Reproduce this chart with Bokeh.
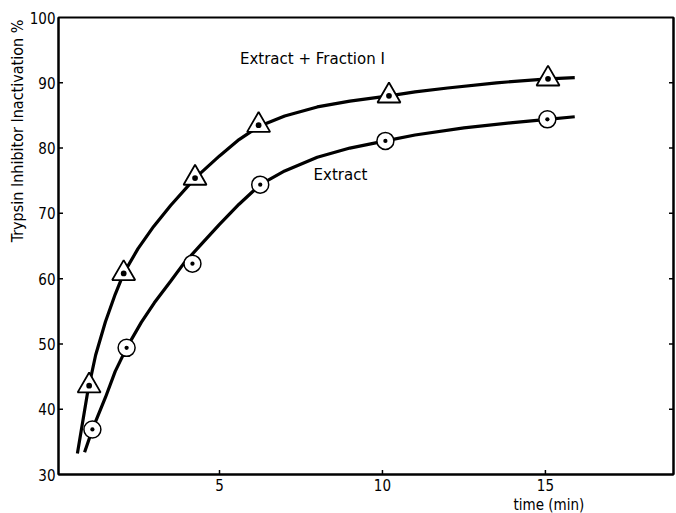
import math
from bokeh.plotting import figure
from bokeh.models import Range1d, LinearAxis, FixedTicker, Title
from bokeh.embed import file_html
from bokeh.resources import INLINE

# measured points
t_ext_frac = [1.0, 2.06, 4.25, 6.2, 10.2, 15.08]
v_ext_frac = [43.6, 60.8, 75.4, 83.5, 88.0, 90.6]
t_ext = [1.1, 2.15, 4.17, 6.25, 10.09, 15.06]
v_ext = [36.9, 49.4, 62.3, 74.4, 81.1, 84.4]

# hand-drawn fitted curves
ct_ext_frac = [0.64, 0.95, 1.2, 1.5, 1.8, 2.06, 2.5, 2.98, 3.5, 4.25, 5.0, 5.6, 6.2, 7.0, 8.0, 9.0, 10.2, 11.0, 12.0, 13.5, 15.08, 15.9]
cv_ext_frac = [33.2, 42.5, 48.3, 53.4, 57.6, 60.8, 64.6, 68.0, 71.2, 75.4, 78.8, 81.3, 83.3, 84.9, 86.3, 87.2, 88.0, 88.6, 89.2, 90.0, 90.6, 90.8]
ct_ext = [0.86, 1.1, 1.5, 1.8, 2.15, 2.6, 3.0, 3.5, 3.9, 4.5, 5.0, 5.6, 6.25, 7.0, 8.0, 9.0, 10.09, 11.0, 12.5, 14.0, 15.06, 15.9]
cv_ext = [33.4, 36.9, 41.8, 45.8, 49.4, 53.3, 56.3, 59.6, 62.3, 65.6, 68.3, 71.4, 74.4, 76.5, 78.6, 80.0, 81.1, 82.0, 83.1, 83.9, 84.4, 84.8]

x_ticks = [5, 10, 15]
y_ticks = [30, 40, 50, 60, 70, 80, 90, 100]
X0, X1 = 0.06, 18.93
Y0, Y1 = 30, 100

FONT = "DejaVu Sans Condensed"

p = figure(width=676, height=513, output_backend="svg", toolbar_location=None,
           x_range=Range1d(X0, X1), y_range=Range1d(Y0, Y1),
           min_border_left=58, min_border_right=3, min_border_top=17, min_border_bottom=39)
p.grid.visible = False
p.outline_line_color = "black"
p.outline_line_width = 2
p.background_fill_color = "white"

for ax in [p.xaxis[0], p.yaxis[0]]:
    ax.axis_line_width = 2
    ax.axis_line_color = "black"
    ax.major_tick_in = 0
    ax.major_tick_out = 0
    ax.minor_tick_line_color = None
    ax.major_label_text_font = FONT
    ax.major_label_text_font_size = "15px"
    ax.major_label_text_color = "black"

p.xaxis[0].ticker = FixedTicker(ticks=x_ticks)
p.xaxis[0].major_label_standoff = 4
p.yaxis[0].ticker = FixedTicker(ticks=y_ticks)
p.yaxis[0].major_label_standoff = 3

rax = LinearAxis(ticker=FixedTicker(ticks=y_ticks), major_tick_in=0, major_tick_out=0,
                 minor_tick_line_color=None,
                 major_label_text_font_size="0px", major_label_standoff=0,
                 axis_line_width=2)
p.add_layout(rax, "right")

# inward tick marks (half of each dash is clipped away by the frame)
inner_y = y_ticks[1:-1]
p.scatter([X0] * len(inner_y), inner_y, marker="dash", size=9, line_color="black", line_width=1.5)
p.scatter([X1] * len(inner_y), inner_y, marker="dash", size=9, line_color="black", line_width=1.5)
p.scatter(x_ticks, [Y0] * len(x_ticks), marker="dash", angle=math.pi / 2, size=9,
          line_color="black", line_width=1.5)

p.line(ct_ext_frac, cv_ext_frac, line_width=3.2, color="black")
p.line(ct_ext, cv_ext, line_width=3.2, color="black")

p.scatter(t_ext_frac, v_ext_frac, marker="triangle_dot", size=23, fill_color="white",
          line_color="black", line_width=1.8)
p.scatter(t_ext, v_ext, marker="circle_dot", size=17, fill_color="white",
          line_color="black", line_width=1.5)

p.text(x=[8.07], y=[93.6], text=["Extract  +  Fraction  I"], text_align="center",
       text_baseline="middle", text_font={"value": "DejaVu Sans"}, text_font_size="15px",
       text_color="black")
p.text(x=[8.71], y=[75.9], text=["Extract"], text_align="center",
       text_baseline="middle", text_font={"value": "DejaVu Sans"}, text_font_size="15px",
       text_color="black")

p.add_layout(Title(text="time  (min)", align="right", offset=85, standoff=0,
                   text_font=FONT, text_font_size="15px", text_font_style="normal",
                   text_color="black"), "below")
p.add_layout(Title(text="Trypsin  Inhibitor  Inactivation %", align="right", offset=-7, standoff=0,
                   text_font=FONT, text_font_size="16px", text_font_style="normal",
                   text_color="black"), "left")

open("out.html", "w").write(file_html(p, INLINE))
